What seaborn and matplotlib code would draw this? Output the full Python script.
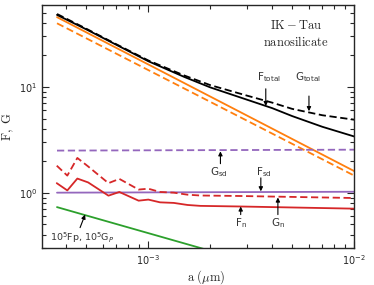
import matplotlib
matplotlib.use("Agg")
import matplotlib.pyplot as plt
import seaborn as sns

sns.set_style("ticks", {"xtick.direction": "in", "ytick.direction": "in"})
plt.rcParams["font.family"] = ["DejaVu Sans"]

# ── data ─────────────────────────────────────────────────────────────────────
a_tot = [3.6e-4, 5e-4, 7e-4, 1e-3, 1.5e-3, 2e-3, 3e-3, 4e-3, 5e-3, 7e-3, 1e-2]
F_total = [48, 35, 25, 17.5, 12.4, 9.9, 7.6, 6.3, 5.3, 4.2, 3.4]
G_total = [49, 35.5, 25.3, 17.8, 12.8, 10.4, 8.3, 7.1, 6.2, 5.4, 4.9]

a_lin = [3.6e-4, 1e-2]
F_ion = [45.7, 1.6]
G_ion = [40.0, 1.45]
G_sd = [2.5, 2.55]
F_sd = [1.0, 1.02]

a_n = [3.59e-4, 4.04e-4, 4.52e-4, 5.1e-4, 6.4e-4, 7.23e-4, 8.97e-4, 1e-3,
       1.14e-3, 1.33e-3, 1.55e-3, 1.79e-3, 2.8e-3, 1e-2]
G_n = [1.80, 1.45, 2.13, 1.77, 1.23, 1.35, 1.07, 1.09,
       1.015, 1.0, 0.957, 0.94, 0.93, 0.89]
F_n = [1.23, 1.05, 1.36, 1.25, 0.937, 1.015, 0.84, 0.86,
       0.81, 0.80, 0.765, 0.75, 0.74, 0.706]

a_p = [3.6e-4, 1.9e-3]
FG_p = [0.73, 0.29]

pal = sns.color_palette("tab10")
orange, green, red, purple = pal[1], pal[2], pal[3], pal[4]

fig = plt.figure(figsize=(3.74, 2.85), dpi=100)
ax = fig.add_axes([0.112, 0.130, 0.835, 0.852])
ax.set_xscale("log")
ax.set_yscale("log")

lw = 1.3
dash = (0, (4, 2))
sns.lineplot(x=a_lin, y=F_ion, ax=ax, color=orange, lw=lw)
sns.lineplot(x=a_lin, y=G_ion, ax=ax, color=orange, lw=lw, linestyle=dash)
sns.lineplot(x=a_tot, y=F_total, ax=ax, color="black", lw=lw)
sns.lineplot(x=a_tot, y=G_total, ax=ax, color="black", lw=lw, linestyle=dash)
sns.lineplot(x=a_lin, y=G_sd, ax=ax, color=purple, lw=lw, linestyle=dash)
sns.lineplot(x=a_lin, y=F_sd, ax=ax, color=purple, lw=lw)
sns.lineplot(x=a_n, y=G_n, ax=ax, color=red, lw=lw, linestyle=dash)
sns.lineplot(x=a_n, y=F_n, ax=ax, color=red, lw=lw)
sns.lineplot(x=a_p, y=FG_p, ax=ax, color=green, lw=lw)

ax.set_xlim(3.04e-4, 1e-2)
ax.set_ylim(0.30, 59.4)

ax.tick_params(which="both", direction="in", top=True, right=True,
               labelsize=7, width=0.8)
ax.tick_params(which="major", length=5)
ax.tick_params(which="minor", length=3)
for s in ax.spines.values():
    s.set_linewidth(1.0)

ax.set_xlabel(r"$\mathrm{a}\ (\mu\mathrm{m})$", fontsize=9, math_fontfamily="cm",
              labelpad=0)
ax.xaxis.set_label_coords(0.525, -0.085)
ax.set_ylabel(r"$\mathrm{F,\ G}$", fontsize=9, math_fontfamily="cm", labelpad=2)

ax.text(0.814, 0.918, r"$\mathrm{IK-Tau}$", transform=ax.transAxes,
        ha="center", va="center", fontsize=9, math_fontfamily="cm")
ax.text(0.814, 0.848, r"$\mathrm{nanosilicate}$", transform=ax.transAxes,
        ha="center", va="center", fontsize=9, math_fontfamily="cm")

arr = dict(arrowstyle="-|>", color="black", lw=0.8, mutation_scale=6,
           shrinkA=0, shrinkB=0)
fs = 7.5
# (label, text pos, arrow tail, arrow tip)
notes = [
    (r"F$_{\rm total}$", (3.85e-3, 12.4), (3.72e-3, 9.6), (3.72e-3, 6.6)),
    (r"G$_{\rm total}$", (5.95e-3, 12.4), (6.03e-3, 8.2), (6.03e-3, 5.9)),
    (r"G$_{\rm sd}$", (2.2e-3, 1.58), (2.24e-3, 1.88), (2.24e-3, 2.46)),
    (r"F$_{\rm sd}$", (3.64e-3, 1.58), (3.52e-3, 1.38), (3.52e-3, 1.03)),
    (r"F$_{\rm n}$", (2.81e-3, 0.51), (2.81e-3, 0.62), (2.81e-3, 0.74)),
    (r"G$_{\rm n}$", (4.26e-3, 0.51), (4.26e-3, 0.62), (4.26e-3, 0.90)),
]
for label, tpos, tail, tip in notes:
    ax.text(*tpos, label, ha="center", va="center", fontsize=fs, color="#333333")
    ax.annotate("", xy=tip, xytext=tail, arrowprops=arr)

ax.text(4.77e-4, 0.376, r"$10^5$Fp, $10^5$G$_P$", ha="center", va="center",
        fontsize=6.8, color="#333333")
ax.annotate("", xy=(4.93e-4, 0.62), xytext=(4.66e-4, 0.467), arrowprops=arr)

fig.savefig("out.png", dpi=100)
